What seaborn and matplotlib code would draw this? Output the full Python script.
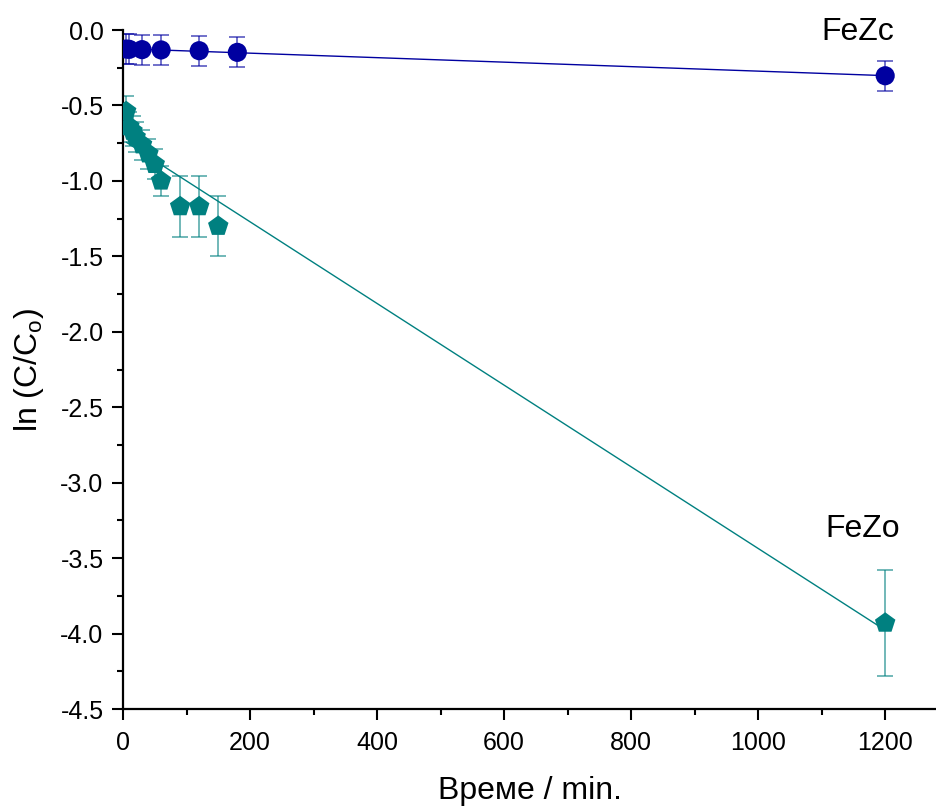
import numpy as np
import matplotlib.pyplot as plt
import seaborn as sns
from matplotlib.ticker import MultipleLocator

# Данни: време (min) и ln(C/Co)
fezc_t = [5, 10, 30, 60, 120, 180, 1200]
fezc_ln = [-0.126, -0.128, -0.130, -0.132, -0.137, -0.148, -0.303]
fezc_err = [0.10, 0.10, 0.10, 0.10, 0.10, 0.10, 0.10]

fezo_t = [5, 10, 15, 20, 30, 40, 50, 60, 90, 120, 150, 1200]
fezo_ln = [-0.54, -0.64, -0.67, -0.71, -0.76, -0.82, -0.89, -1.00, -1.17, -1.17, -1.30, -3.93]
fezo_err = [0.10, 0.10, 0.10, 0.10, 0.10, 0.10, 0.10, 0.10, 0.20, 0.20, 0.20, 0.35]

c_fezc = '#0000A0'
c_fezo = '#008080'

sns.set_theme(style='ticks')
plt.rcParams['font.family'] = ['Liberation Sans', 'DejaVu Sans']
plt.rcParams['axes.unicode_minus'] = False
plt.rcParams['text.color'] = 'black'
plt.rcParams['axes.labelcolor'] = 'black'
plt.rcParams['xtick.color'] = 'black'
plt.rcParams['ytick.color'] = 'black'

fig = plt.figure(figsize=(9.36, 8.07), dpi=100)
ax = fig.add_axes([0.1314, 0.1214, 0.8686, 0.8414])

# линейни апроксимации
sns.regplot(x=fezc_t, y=fezc_ln, ci=None, scatter=False, ax=ax,
            line_kws=dict(color=c_fezc, lw=1.0, zorder=1))
sns.regplot(x=fezo_t, y=fezo_ln, ci=None, scatter=False, ax=ax,
            line_kws=dict(color=c_fezo, lw=1.0, zorder=1))

# грешки
ax.errorbar(fezc_t, fezc_ln, yerr=fezc_err, fmt='none', ecolor=c_fezc,
            alpha=0.6, elinewidth=1.3, capsize=6, capthick=1.3, zorder=2)
ax.errorbar(fezo_t, fezo_ln, yerr=fezo_err, fmt='none', ecolor=c_fezo,
            alpha=0.6, elinewidth=1.3, capsize=6, capthick=1.3, zorder=2)

# точки
sns.scatterplot(x=fezc_t, y=fezc_ln, marker='o', s=190, color=c_fezc,
                edgecolor='none', ax=ax, zorder=3)
sns.scatterplot(x=fezo_t, y=fezo_ln, marker='p', s=240, color=c_fezo,
                edgecolor='none', ax=ax, zorder=3)

ax.text(1157, -0.01, 'FeZc', fontsize=23, ha='center', va='center', clip_on=False)
ax.text(1164, -3.31, 'FeZo', fontsize=23, ha='center', va='center', clip_on=False)

ax.set_xlim(0, 1280)
ax.set_ylim(-4.5, 0.0)
ax.xaxis.set_major_locator(MultipleLocator(200))
ax.xaxis.set_minor_locator(MultipleLocator(100))
ax.yaxis.set_major_locator(MultipleLocator(0.5))
ax.yaxis.set_minor_locator(MultipleLocator(0.25))
ax.tick_params(which='major', length=8, width=1.5, labelsize=18, pad=6)
ax.tick_params(which='minor', length=4, width=1.5)
ax.tick_params(axis='x', pad=8)

sns.despine(ax=ax)
for s in ['left', 'bottom']:
    ax.spines[s].set_linewidth(1.6)
    ax.spines[s].set_color('black')

ax.set_xlabel('Време / min.', fontsize=23, labelpad=15)
ax.set_ylabel('ln (C/C$_\\mathregular{o}$)', fontsize=23, labelpad=10)

fig.savefig('out.png', dpi=100)
